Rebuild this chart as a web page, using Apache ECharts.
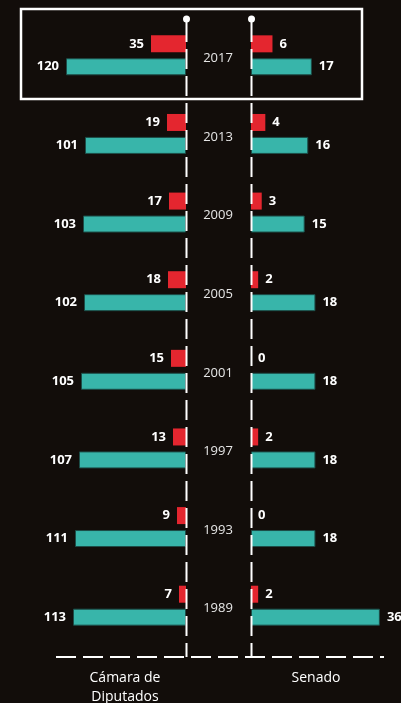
<!DOCTYPE html>
<html><head><meta charset="utf-8">
<script src="https://cdn.jsdelivr.net/npm/echarts@6/dist/echarts.min.js"></script>
<style>html,body{margin:0;padding:0;background:#120d0a;}#c{width:401px;height:703px;}</style>
</head><body><div id="c"></div>
<script>
const years = ['2017','2013','2009','2005','2001','1997','1993','1989'];
const camaraWomen = [35,19,17,18,15,13,9,7];
const camaraMen = [120,101,103,102,105,107,111,113];
const senadoWomen = [6,4,3,2,0,2,0,2];
const senadoMen = [17,16,15,18,18,18,18,36];
const panelTitles = ['Cámara de\nDiputados','Senado'];

const RED = '#e4262f', TEAL = '#38b5aa';
const FONT = 'Open Sans';
const chart = echarts.init(document.getElementById('c'));
const gridTop = 16, gridH = 629;
const valLabel = (pos) => ({show:true, position:pos, distance:7, color:'#ffffff', fontWeight:'bold', fontSize:13, fontFamily:FONT});
const dash = [20,7];
chart.setOption({
  backgroundColor:'#120d0a',
  animation:false,
  grid:[
    {left:56, width:130, top:gridTop, height:gridH},
    {left:251, width:143.2, top:gridTop, height:gridH}
  ],
  xAxis:[
    {gridIndex:0, type:'value', min:0, max:130, inverse:true, show:false},
    {gridIndex:1, type:'value', min:0, max:40, show:false}
  ],
  yAxis:[
    {gridIndex:0, type:'category', data:years, inverse:true, position:'right',
     axisLine:{show:false}, axisTick:{show:false}, axisLabel:{show:false}},
    {gridIndex:1, type:'category', data:years, inverse:true, position:'left',
     axisLine:{show:false}, axisTick:{show:false},
     axisLabel:{show:true, align:'center', margin:33, formatter:'{y|{value}}',
       rich:{y:{color:'#e6e6e6', fontSize:13, fontFamily:FONT, padding:[6,0,0,0]}}}}
  ],
  series:[
    {type:'bar', xAxisIndex:0, yAxisIndex:0, data:camaraWomen, barWidth:17, barGap:'35%',
     itemStyle:{color:RED}, label:valLabel('left')},
    {type:'bar', xAxisIndex:0, yAxisIndex:0, data:camaraMen, barWidth:17, barGap:'35%',
     itemStyle:{color:TEAL, borderColor:'#1c4d48', borderWidth:1}, label:valLabel('left')},
    {type:'bar', xAxisIndex:1, yAxisIndex:1, data:senadoWomen, barWidth:17, barGap:'35%',
     itemStyle:{color:RED}, label:valLabel('right')},
    {type:'bar', xAxisIndex:1, yAxisIndex:1, data:senadoMen, barWidth:17, barGap:'35%',
     itemStyle:{color:TEAL, borderColor:'#1c4d48', borderWidth:1}, label:valLabel('right')}
  ],
  graphic:[
    {type:'rect', shape:{x:21, y:9, width:341, height:90}, style:{fill:'none', stroke:'#ffffff', lineWidth:2.5}, z:10},
    {type:'line', shape:{x1:186.5, y1:22, x2:186.5, y2:657}, style:{stroke:'#ffffff', lineWidth:2, lineDash:dash}, z:10},
    {type:'line', shape:{x1:251.5, y1:22, x2:251.5, y2:657}, style:{stroke:'#ffffff', lineWidth:2, lineDash:dash}, z:10},
    {type:'circle', shape:{cx:186.5, cy:19, r:3.5}, style:{fill:'#ffffff'}, z:10},
    {type:'circle', shape:{cx:251.5, cy:19, r:3.5}, style:{fill:'#ffffff'}, z:10},
    {type:'line', shape:{x1:56, y1:657, x2:384, y2:657}, style:{stroke:'#ffffff', lineWidth:2, lineDash:dash}, z:10},
    {type:'text', x:125, y:669, style:{text:panelTitles[0], fill:'#ffffff', font:'14px "Open Sans"', align:'center', lineHeight:19}, z:10},
    {type:'text', x:316, y:669, style:{text:panelTitles[1], fill:'#ffffff', font:'14px "Open Sans"', align:'center', lineHeight:19}, z:10}
  ]
});
</script></body></html>
